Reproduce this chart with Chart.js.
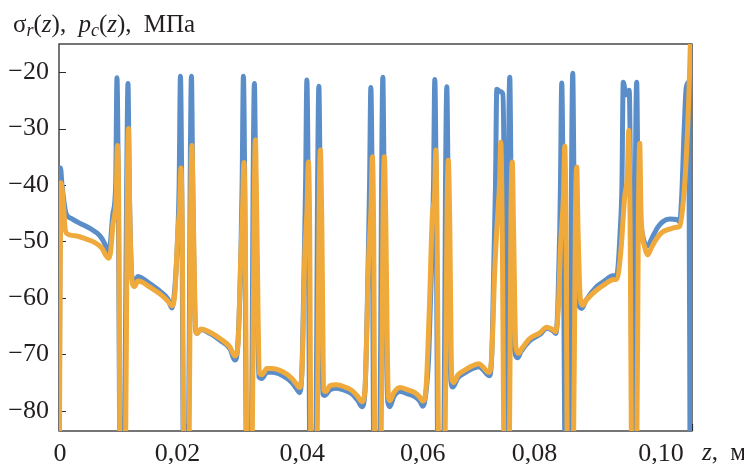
<!DOCTYPE html>
<html>
<head>
<meta charset="utf-8">
<script src="https://cdn.jsdelivr.net/npm/chart.js@4.4.1/dist/chart.umd.min.js"></script>
<style>
  body{margin:0;background:#fff;}
  #wrap{position:relative;width:744px;height:464px;overflow:hidden;}
  .lbl{position:absolute;font-family:"Liberation Serif",serif;font-size:25px;line-height:25px;color:#231f20;white-space:nowrap;word-spacing:6px;}
  .lbl sub{font-size:0.72em;vertical-align:-0.22em;line-height:0;}
</style>
</head>
<body>
<div id="wrap">
  <canvas id="chart" width="744" height="464"></canvas>
  <div class="lbl" style="left:13px;top:11px">σ<sub><i>r</i></sub>(<i>z</i>), <i>p</i><sub><i>c</i></sub>(<i>z</i>), МПа</div>
  <div class="lbl" style="left:702px;top:439px"><i>z</i>, м</div>
</div>
<script>
// z, m / MPa
const sigmaR = [
  [0,-100],[0.000237,-37],[0.000474,-40],[0.00079,-43],[0.001105,-45],[0.002053,-46],[0.003316,-46.8],[0.004895,-47.7],[0.006474,-49],[0.007263,-50.5],[0.007737,-52],[0.008053,-51],
  [0.008527,-45],[0.008953,-40],[0.009158,-21],[0.009363,-40],[0.009711,-100],[0.010185,-100],[0.01069,-40],[0.010895,-22],[0.0111,-40],
  [0.011527,-56.5],[0.011843,-57.3],[0.012474,-56.2],[0.013106,-56.5],[0.014369,-57.5],[0.015948,-58.8],[0.017211,-60.2],[0.017843,-61.8],[0.018316,-58],
  [0.01879,-48],[0.01898,-40],[0.019185,-20.7],[0.01939,-40],[0.019738,-100],[0.020369,-100],[0.020717,-40],[0.020922,-20.7],[0.021127,-40],
  [0.021553,-65.5],[0.02179,-66.3],[0.022422,-65.6],[0.023843,-66.3],[0.025422,-67.5],[0.027001,-69],[0.02779,-71],[0.028264,-68],
  [0.028738,-52],[0.028928,-40],[0.029133,-20.7],[0.029338,-40],[0.029685,-100],[0.030317,-100],[0.030664,-40],[0.030869,-22],[0.031074,-40],
  [0.03158,-74],[0.032054,-74.3],[0.032843,-73.2],[0.033633,-73.2],[0.03537,-73.8],[0.036791,-75],[0.03758,-76.2],[0.037975,-76.8],[0.03837,-73],
  [0.038764,-52],[0.038954,-40],[0.039159,-21.4],[0.039364,-40],[0.039712,-100],[0.040501,-100],[0.040849,-40],[0.041054,-22.5],[0.041259,-40],
  [0.041686,-77],[0.042001,-77.3],[0.042791,-76.3],[0.043896,-76],[0.045159,-76.4],[0.046265,-77],[0.047212,-78.2],[0.047844,-79.3],[0.048317,-77],
  [0.04887,-52],[0.04906,-40],[0.049265,-22.7],[0.04947,-40],[0.049817,-100],[0.050607,-100],[0.050955,-40],[0.05116,-20.9],[0.051365,-40],
  [0.051949,-78.5],[0.052265,-79.3],[0.052897,-77.5],[0.053844,-76.6],[0.055107,-77],[0.056212,-77.5],[0.057002,-78.3],[0.057476,-79.2],[0.057949,-77],
  [0.058423,-70],[0.058976,-50],[0.059165,-40],[0.05937,-21.3],[0.059575,-40],[0.059923,-100],[0.060713,-100],[0.06106,-40],[0.061265,-22.6],[0.06147,-40],
  [0.061897,-74.5],[0.062213,-75.8],[0.063002,-74.2],[0.064107,-73.3],[0.065213,-72.6],[0.066318,-72.2],[0.06695,-72.7],[0.067581,-73.5],[0.067976,-73.8],[0.068371,-70],
  [0.068765,-50],[0.068955,-40],[0.06916,-23],[0.069634,-23.4],[0.070108,-23.8],[0.070313,-40],[0.070502,-100],[0.070818,-100],[0.071008,-40],[0.071213,-20.9],[0.071418,-40],
  [0.071845,-68],[0.072476,-70.6],[0.07295,-69.6],[0.074371,-67.6],[0.07595,-66.5],[0.077055,-65.4],[0.078003,-65.8],[0.078476,-66.3],[0.078792,-62],
  [0.079108,-48],[0.079219,-40],[0.079424,-21.9],[0.079629,-40],[0.080055,-100],[0.080687,-100],[0.080956,-40],[0.081161,-20.2],[0.081366,-40],
  [0.08195,-60],[0.082582,-61.9],[0.083213,-60.5],[0.08495,-58],[0.086213,-57],[0.087477,-56.1],[0.088108,-56],
  [0.088661,-48],[0.08893,-40],[0.089135,-21.8],[0.089608,-24],[0.090082,-23.2],[0.090287,-40],[0.090635,-100],[0.090871,-100],[0.091061,-40],[0.091266,-21.8],[0.091471,-40],
  [0.092056,-48],[0.092529,-50.3],[0.093003,-50.8],[0.093635,-49.5],[0.094582,-47.5],[0.095372,-46.5],[0.096477,-46],[0.097582,-46.1],[0.098056,-46.5],
  [0.098372,-42],[0.098767,-30],[0.099082,-22.8],[0.099477,-21.8],[0.099714,-100]
];

const pc = [
  [0,-100],[0.000316,-39.6],[0.000632,-42.5],[0.000947,-47.5],[0.001263,-48.6],[0.002526,-49],[0.004105,-49.5],[0.005684,-50.2],[0.00679,-51.2],[0.007421,-52.5],[0.007816,-53],[0.008132,-52],
  [0.008527,-47],[0.009032,-42],[0.009237,-33],[0.009442,-45],[0.009711,-100],[0.010421,-100],[0.010769,-45],[0.010974,-30],[0.011179,-45],
  [0.011606,-57.5],[0.011921,-58],[0.012474,-57],[0.013106,-57.2],[0.014369,-58.1],[0.015948,-59.3],[0.017211,-60.6],[0.017843,-61.4],[0.018316,-59],
  [0.01879,-48],[0.019059,-44],[0.019264,-37],[0.019469,-48],[0.019817,-100],[0.020448,-100],[0.020796,-45],[0.021001,-33],[0.021206,-45],
  [0.021632,-66],[0.021869,-66.3],[0.022422,-65.5],[0.023843,-66.1],[0.025422,-67.2],[0.027001,-68.7],[0.02779,-70.3],[0.028264,-68.5],
  [0.028738,-52],[0.029007,-44],[0.029212,-36],[0.029417,-48],[0.029764,-100],[0.030396,-100],[0.030822,-45],[0.031027,-32],[0.031232,-45],
  [0.031659,-73.3],[0.032054,-73.6],[0.032843,-72.5],[0.033633,-72.5],[0.03537,-73.1],[0.036791,-74.3],[0.03758,-75.4],[0.037975,-75.9],[0.03837,-73.5],
  [0.038843,-52],[0.039191,-44],[0.039396,-35.9],[0.039601,-48],[0.03987,-100],[0.040659,-100],[0.041086,-45],[0.041291,-33.8],[0.041496,-45],
  [0.041844,-76.4],[0.042159,-76.6],[0.042791,-75.6],[0.043896,-75.4],[0.045159,-75.8],[0.046265,-76.4],[0.047212,-77.5],[0.047844,-78.4],[0.048317,-76.5],
  [0.048949,-52],[0.049297,-44],[0.049502,-35],[0.049707,-48],[0.049975,-100],[0.050765,-100],[0.051191,-45],[0.051396,-35],[0.051601,-45],
  [0.052028,-77.5],[0.052265,-78.2],[0.052897,-76.8],[0.053844,-75.9],[0.055107,-76.3],[0.056212,-76.8],[0.057002,-77.6],[0.057476,-78.3],[0.057949,-76.5],
  [0.058502,-62],[0.059002,-45],[0.059323,-42],[0.059528,-33.8],[0.059733,-48],[0.060081,-100],[0.06087,-100],[0.061297,-45],[0.061502,-35.6],[0.061707,-45],
  [0.062055,-74.3],[0.062371,-75],[0.063002,-73.7],[0.064107,-72.8],[0.065213,-72.1],[0.066318,-71.7],[0.06695,-72.2],[0.067581,-73],[0.067976,-73.2],[0.068371,-70],
  [0.068844,-55],[0.069318,-45],[0.069587,-40],[0.069792,-32.4],[0.069997,-45],[0.070423,-100],[0.071055,-100],[0.071403,-45],[0.071608,-35.9],[0.071813,-48],
  [0.07216,-68.5],[0.072634,-69.8],[0.073108,-69],[0.074371,-67.2],[0.07595,-66.2],[0.077055,-65.2],[0.078003,-65.6],[0.078476,-66],[0.078871,-62],
  [0.079266,-50],[0.079692,-42],[0.079897,-33.1],[0.080102,-48],[0.080371,-100],[0.081161,-100],[0.081587,-45],[0.081792,-36.8],[0.081997,-48],
  [0.082345,-60],[0.08274,-61.3],[0.083371,-60.3],[0.08495,-58.6],[0.086213,-57.6],[0.087477,-56.8],[0.088108,-56.7],
  [0.08874,-52],[0.089371,-42],[0.089798,-38],[0.090003,-30.3],[0.090208,-45],[0.090556,-100],[0.091187,-100],[0.091535,-45],[0.09174,-32.6],[0.091945,-45],
  [0.092529,-51],[0.093003,-52.4],[0.093635,-51],[0.094582,-49.2],[0.095372,-48.3],[0.096477,-47.8],[0.097582,-47.5],[0.098056,-47.3],
  [0.09853,-44],[0.099003,-37],[0.099477,-25],[0.099872,-10]
];

const xTicks = [0, 0.02, 0.04, 0.06, 0.08, 0.10];
const xTickLabels = ['0', '0,02', '0,04', '0,06', '0,08', '0,10'];
const yTicks = [-80, -70, -60, -50, -40, -30, -20];

const FONT = '"Liberation Serif", serif';
// the printed labels sit a little left of their ticks
const xLabelShift = [1, -8, -10, -16, -31, -31];

const frame = {
  id: 'frame',
  beforeDatasetsDraw(chart){
    const {ctx, chartArea:a, scales} = chart;
    ctx.save();
    ctx.strokeStyle = '#2b2b2b';
    ctx.lineWidth = 1.3;
    ctx.strokeRect(a.left, a.top, a.right - a.left, a.bottom - a.top);
    ctx.lineWidth = 1.2;
    ctx.beginPath();
    yTicks.forEach(v => {
      const y = Math.round(scales.y.getPixelForValue(v)) + 0.5;
      ctx.moveTo(a.left, y); ctx.lineTo(a.left + 7, y);
    });
    xTicks.slice(1).forEach(v => {
      const x = Math.round(scales.x.getPixelForValue(v)) + 0.5;
      ctx.moveTo(x, a.bottom); ctx.lineTo(x, a.bottom - 7);
    });
    ctx.stroke();
    ctx.restore();
  },
  afterDraw(chart){
    const {ctx, scales} = chart;
    ctx.save();
    ctx.font = '26px ' + FONT;
    ctx.fillStyle = '#231f20';
    ctx.textAlign = 'center';
    ctx.textBaseline = 'alphabetic';
    xTicks.forEach((v, i) => {
      ctx.fillText(xTickLabels[i], scales.x.getPixelForValue(v) + xLabelShift[i], 461);
    });
    ctx.restore();
  }
};

const toXY = arr => arr.map(([x, y]) => ({x, y}));

new Chart(document.getElementById('chart').getContext('2d'), {
  type: 'line',
  data: {
    datasets: [
      {label: 'p_c(z)', data: toXY(pc), borderColor: '#f0a93b', borderWidth: 5,
       pointRadius: 0, cubicInterpolationMode: 'monotone', borderJoinStyle: 'round', clip: 0, order: 0},
      {label: 'σ_r(z)', data: toXY(sigmaR), borderColor: '#5b8ec9', borderWidth: 5,
       pointRadius: 0, cubicInterpolationMode: 'monotone', borderJoinStyle: 'round', clip: 0, order: 1}
    ]
  },
  options: {
    responsive: false,
    animation: false,
    devicePixelRatio: 1,
    layout: {padding: {top: 44, right: 52, left: 0, bottom: 0}},
    plugins: {legend: {display: false}, tooltip: {enabled: false}},
    scales: {
      x: {
        type: 'linear', min: 0, max: 0.1,
        afterBuildTicks: s => { s.ticks = xTicks.map(v => ({value: v})); },
        afterFit: s => { s.height = 33; },
        ticks: {display: false},
        grid: {display: false, drawTicks: false},
        border: {display: false}
      },
      y: {
        min: -83.6, max: -15,
        afterBuildTicks: s => { s.ticks = yTicks.map(v => ({value: v})); },
        afterFit: s => { s.width = 59; },
        ticks: {
          padding: 10, color: '#231f20', font: {family: FONT, size: 26},
          callback: v => (v < 0 ? '\u2212' : '') + Math.abs(v)
        },
        grid: {display: false, drawTicks: false},
        border: {display: false}
      }
    }
  },
  plugins: [frame]
});
</script>
</body>
</html>
